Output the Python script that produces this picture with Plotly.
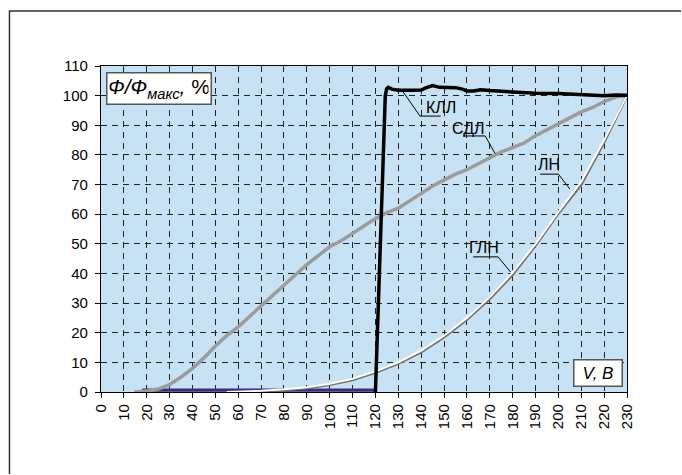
import plotly.graph_objects as go

# ---------------- data ----------------
x_ticks = list(range(0, 231, 10))
y_ticks = list(range(0, 111, 10))

# КЛЛ (compact fluorescent lamp)
kll_x = [120, 124.3, 124.9, 125.6, 127.2, 130, 135, 140, 142, 145, 148, 152, 155, 158, 160,
         163, 166, 170, 175, 180, 185, 190, 200, 210, 220, 225, 230]
kll_y = [0, 100, 102.3, 102.8, 102.2, 101.8, 101.8, 101.9, 102.6, 103.4, 102.8, 102.7, 102.7,
         102.2, 101.6, 101.6, 102.0, 101.7, 101.5, 101.2, 100.9, 100.8, 100.7, 100.3, 100.0,
         100.2, 100.1]

# zero segment (КЛЛ off)
zero_x = [18, 120]
zero_y = [0.6, 0.6]

# СДЛ (LED lamp)
sdl_x = [14.5, 20, 25, 30, 35, 40, 45, 50, 55, 60, 65, 70, 75, 80, 85, 90, 95, 100, 105, 110,
         115, 120, 125, 130, 135, 140, 145, 150, 155, 160, 165, 170, 175, 180, 185, 190, 195,
         200, 205, 210, 215, 220, 225, 230]
sdl_y = [0, 0.3, 1.0, 2.5, 5.0, 8.0, 11.5, 15.5, 19.0, 22.0, 25.5, 29.0, 32.5, 36.0, 39.5,
         43.0, 46.0, 49.0, 51.0, 53.5, 56.0, 58.5, 60.5, 62.0, 64.5, 67.0, 69.5, 71.5, 73.5,
         75.0, 77.0, 79.0, 81.0, 82.5, 84.0, 86.5, 88.5, 90.5, 92.5, 94.5, 96.0, 98.0, 99.5, 100]

# ГЛН (halogen incandescent)
gln_x = [55, 60, 70, 80, 90, 100, 110, 120, 130, 140, 150, 160, 170, 180, 190, 200, 210,
         220, 230]
gln_y = [0, 0.1, 0.4, 0.9, 1.6, 2.8, 4.5, 7.0, 10.0, 14.0, 19.0, 25.0, 32.0, 40.3, 50.0,
         60.8, 71.0, 85.0, 100]

# ЛН (incandescent)
ln_x = [75, 80, 90, 100, 110, 120, 130, 140, 150, 160, 170, 180, 190, 200, 210, 220, 230]
ln_y = [0.4, 0.7, 1.3, 2.5, 4.1, 6.6, 9.6, 13.5, 18.5, 24.5, 31.5, 39.6, 49.5, 60.3, 70.0,
        84.3, 100]

# labels: (text, text_x, text_y, underline_x0, underline_x1, underline_y, target_x, target_y)
labels = [
    ("КЛЛ", 148.5, 96.0, 139.5, 148.5, 93.1, 132.0, 101.4),
    ("СДЛ", 160.5, 89.0, 158.3, 168.0, 86.4, 172.3, 80.5),
    ("ЛН", 196.0, 76.6, 192.0, 200.0, 73.5, 205.0, 68.5),
    ("ГЛН", 167.5, 48.6, 162.7, 173.6, 45.6, 179.1, 40.5),
]

# ---------------- figure ----------------
fig = go.Figure()

fig.add_trace(go.Scatter(x=zero_x, y=zero_y, mode="lines",
                         line=dict(color="#3E2C7C", width=3.2), hoverinfo="skip"))
fig.add_trace(go.Scatter(x=sdl_x, y=sdl_y, mode="lines", name="СДЛ",
                         line=dict(color="#9C9C9C", width=3.5)))
fig.add_trace(go.Scatter(x=ln_x, y=ln_y, mode="lines", name="ЛН",
                         line=dict(color="#707070", width=2.8)))
fig.add_trace(go.Scatter(x=gln_x, y=gln_y, mode="lines", name="ГЛН",
                         line=dict(color="#FFFFFF", width=2)))
fig.add_trace(go.Scatter(x=kll_x, y=kll_y, mode="lines", name="КЛЛ",
                         line=dict(color="#000000", width=3.5)))

shapes = []
annotations = []
for txt, tx, ty, ux0, ux1, uy, px, py in labels:
    annotations.append(dict(x=tx, y=ty, xref="x", yref="y", text=txt, showarrow=False,
                            font=dict(family="Liberation Sans, Arial", size=16, color="#000")))
    if px < ux0:
        path = f"M {ux1},{uy} L {ux0},{uy} L {px},{py}"
    else:
        path = f"M {ux0},{uy} L {ux1},{uy} L {px},{py}"
    shapes.append(dict(type="path", xref="x", yref="y", path=path,
                       line=dict(color="#000", width=1), fillcolor="rgba(0,0,0,0)"))

# outer frame (left and top edges visible) as one open path
shapes.append(dict(type="path", xref="paper", yref="paper",
                   path="M -0.174,-0.2515 L -0.174,1.169 L 1.1027,1.169",
                   line=dict(color="#333", width=1.5), fillcolor="rgba(0,0,0,0)", layer="below"))

# boxes
annotations.append(dict(xref="paper", yref="paper", x=0.009, y=0.982, xanchor="left", yanchor="top",
                        text="<i>Ф/Ф<sub>макс</sub>,</i> %", showarrow=False,
                        font=dict(family="Liberation Sans, Arial", size=21, color="#000"),
                        bgcolor="#FFFFFF", bordercolor="#555", borderwidth=1.5, borderpad=2,
                        width=99, height=26, align="center"))
annotations.append(dict(xref="paper", yref="paper", x=0.9925, y=0.0144, xanchor="right", yanchor="bottom",
                        text="<i>V, B</i>", showarrow=False,
                        font=dict(family="Liberation Sans, Arial", size=17, color="#000"),
                        bgcolor="#FFFFFF", bordercolor="#555", borderwidth=1.5, borderpad=2,
                        width=43, height=21, align="center"))

axis_common = dict(showline=True, linecolor="#000", linewidth=1.3, mirror=True,
                   ticks="outside", ticklen=5, tickcolor="#000", tickwidth=1,
                   showgrid=True, gridcolor="#222", gridwidth=1, griddash="6px,5px",
                   zeroline=False,
                   tickfont=dict(family="Liberation Sans, Arial", size=15, color="#000"))

fig.update_layout(
    width=682, height=475,
    margin=dict(l=101, r=55, t=66, b=83),
    paper_bgcolor="#FFFFFF", plot_bgcolor="#C6E2F4",
    showlegend=False,
    xaxis=dict(range=[0, 230], tickvals=x_ticks, ticktext=[str(v) for v in x_ticks],
               tickangle=-90, **axis_common),
    yaxis=dict(range=[0, 110], tickvals=y_ticks, ticktext=[str(v) for v in y_ticks],
               ticklabelstandoff=4, **axis_common),
    shapes=shapes, annotations=annotations,
)

fig.write_html("out.html", config={"displayModeBar": False},
               post_script="document.body.style.margin='0';document.documentElement.style.overflow='hidden';document.body.style.overflow='hidden';")
